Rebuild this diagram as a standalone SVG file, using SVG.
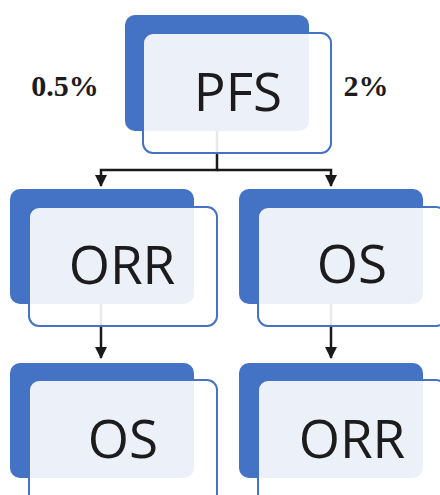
<svg xmlns="http://www.w3.org/2000/svg" width="440" height="495" viewBox="0 0 440 495">
<defs>
<style>
.back{fill:#4472C4;}
.front{fill:#FFFFFF;fill-opacity:0.9;stroke:#4472C4;stroke-width:2;}
.lbl{font-family:"Open Sans","Noto Sans",sans-serif;font-size:53px;fill:#1E1B1C;text-anchor:middle;}
.pct{font-family:"Liberation Serif","Times New Roman",serif;font-size:30px;font-weight:bold;fill:#1E1B1C;text-anchor:middle;}
.con{fill:none;stroke:#1A1A1A;stroke-width:2.5;}
</style>
<marker id="ah" viewBox="0 0 12 12" refX="11" refY="6" markerWidth="12" markerHeight="12" markerUnits="userSpaceOnUse" orient="auto">
<path d="M0,0 L12,6 L0,12 Z" fill="#1A1A1A"/>
</marker>
</defs>
<rect width="440" height="495" fill="#FFFFFF"/>
<g id="connectors">
<path class="con" d="M217,131 V170 H101 V186" marker-end="url(#ah)"/>
<path class="con" d="M217,170 H331 V186" marker-end="url(#ah)"/>
<path class="con" d="M101,304 V358" marker-end="url(#ah)"/>
<path class="con" d="M331,304 V358" marker-end="url(#ah)"/>
</g>
<g id="pfs">
<rect class="back" x="125" y="15" width="184" height="116" rx="10"/>
<rect class="front" x="143" y="33" width="188" height="120" rx="10"/>
<text class="lbl" x="238" y="111">PFS</text>
</g>
<g id="orr1">
<rect class="back" x="10" y="189" width="184" height="115" rx="10"/>
<rect class="front" x="29" y="207" width="188" height="119" rx="10"/>
<text class="lbl" x="122" y="284">ORR</text>
</g>
<g id="os1">
<rect class="back" x="239" y="189" width="184" height="115" rx="10"/>
<rect class="front" x="258" y="207" width="188" height="119" rx="10"/>
<text class="lbl" x="352" y="283">OS</text>
</g>
<g id="os2">
<rect class="back" x="10" y="363" width="184" height="115" rx="10"/>
<rect class="front" x="29" y="380" width="188" height="125" rx="10"/>
<text class="lbl" x="123" y="458">OS</text>
</g>
<g id="orr2">
<rect class="back" x="239" y="363" width="184" height="115" rx="10"/>
<rect class="front" x="258" y="380" width="188" height="125" rx="10"/>
<text class="lbl" x="352" y="458">ORR</text>
</g>
<g id="labels">
<text class="pct" x="65" y="96">0.5%</text>
<text class="pct" x="366" y="96">2%</text>
</g>
</svg>
